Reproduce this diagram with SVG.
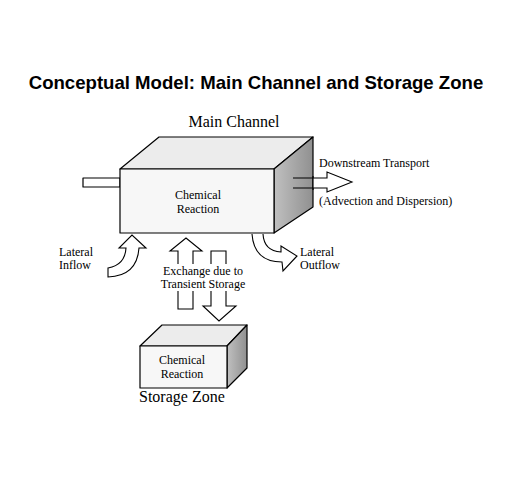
<svg xmlns="http://www.w3.org/2000/svg" width="506" height="491" viewBox="0 0 506 491">
<defs>
<linearGradient id="side" x1="0" y1="0" x2="1" y2="0">
<stop offset="0" stop-color="#c0c0c0"/>
<stop offset="1" stop-color="#909090"/>
</linearGradient>
<style>
.box{stroke:#000;stroke-width:1.2;stroke-linejoin:round}
.front{fill:#f7f7f7}
.top{fill:#ececec}
.side{fill:url(#side)}
.arr{fill:#fff;stroke:#000;stroke-width:1.1;stroke-linejoin:miter}
.t{font-family:"Liberation Serif","Times New Roman",serif;fill:#000}
.s12{font-size:12px}
.title{font-family:"Liberation Sans",Arial,sans-serif;font-weight:bold;font-size:18.6px}
</style>
</defs>
<rect width="506" height="491" fill="#fff"/>
<text class="title" x="256" y="89" text-anchor="middle">Conceptual Model: Main Channel and Storage Zone</text>

<g id="main-channel">
<text class="t" x="234" y="127" font-size="16" text-anchor="middle">Main Channel</text>
<rect class="box" x="83" y="178" width="37" height="9" fill="#fff"/>
<polygon class="box top" points="120,169 159,137 313,137 274,169"/>
<polygon class="box side" points="274,169 313,137 313,207 274,233"/>
<rect class="box front" x="120" y="169" width="154" height="64"/>
<text class="t s12" x="198" y="199" text-anchor="middle">Chemical</text>
<text class="t s12" x="198" y="213" text-anchor="middle">Reaction</text>
</g>

<g id="storage-zone">
<polygon class="box top" points="140,346 162,325 247,325 227,346"/>
<polygon class="box side" points="227,346 247,325 247,368 227,388"/>
<rect class="box front" x="140" y="346" width="87" height="42"/>
<text class="t s12" x="182" y="364" text-anchor="middle">Chemical</text>
<text class="t s12" x="182" y="378" text-anchor="middle">Reaction</text>
<text class="t" x="139" y="402" font-size="16">Storage Zone</text>
</g>

<g id="connectors">
<g id="downstream-transport">
<path d="M313,178 L327,178 L327,172 L352,182 L327,192 L327,188 L313,188 Z" fill="#fff" stroke="none"/>
<path d="M293,178 L327,178 L327,172 L352,182 L327,192 L327,188 L293,188" fill="none" stroke="#000" stroke-width="1.1"/>
<line x1="313" y1="176" x2="313" y2="190" stroke="#000" stroke-width="1.2"/>
</g>
<path id="lateral-inflow" class="arr" d="M108,268 Q125,265 126,248 L119,248 L132,235 L146,248 L139,248 Q137,276 108,277 Z"/>
<path id="lateral-outflow" class="arr" d="M252,234 Q254,262 282,262 L283,271 L297,256 L281,246 L281,252 Q264,251 263,234"/>
<path id="exchange-up" class="arr" d="M178,309 L178,251 L170,251 L186,238 L202,251 L193,251 L193,309 Z"/>
<path id="exchange-down" class="arr" d="M211,251 L226,251 L226,306 L236,306 L219,321 L203,306 L211,306 Z"/>
</g>

<g id="labels">
<text class="t s12" x="319" y="167">Downstream Transport</text>
<text class="t s12" x="319" y="205">(Advection and Dispersion)</text>
<text class="t s12" x="59" y="256">Lateral</text>
<text class="t s12" x="59" y="269">Inflow</text>
<text class="t s12" x="300" y="256">Lateral</text>
<text class="t s12" x="300" y="269">Outflow</text>
<rect x="162" y="264" width="82" height="27" fill="#fff"/>
<text class="t s12" x="203" y="275" text-anchor="middle">Exchange due to</text>
<text class="t s12" x="203" y="288" text-anchor="middle">Transient Storage</text>
</g>
</svg>
